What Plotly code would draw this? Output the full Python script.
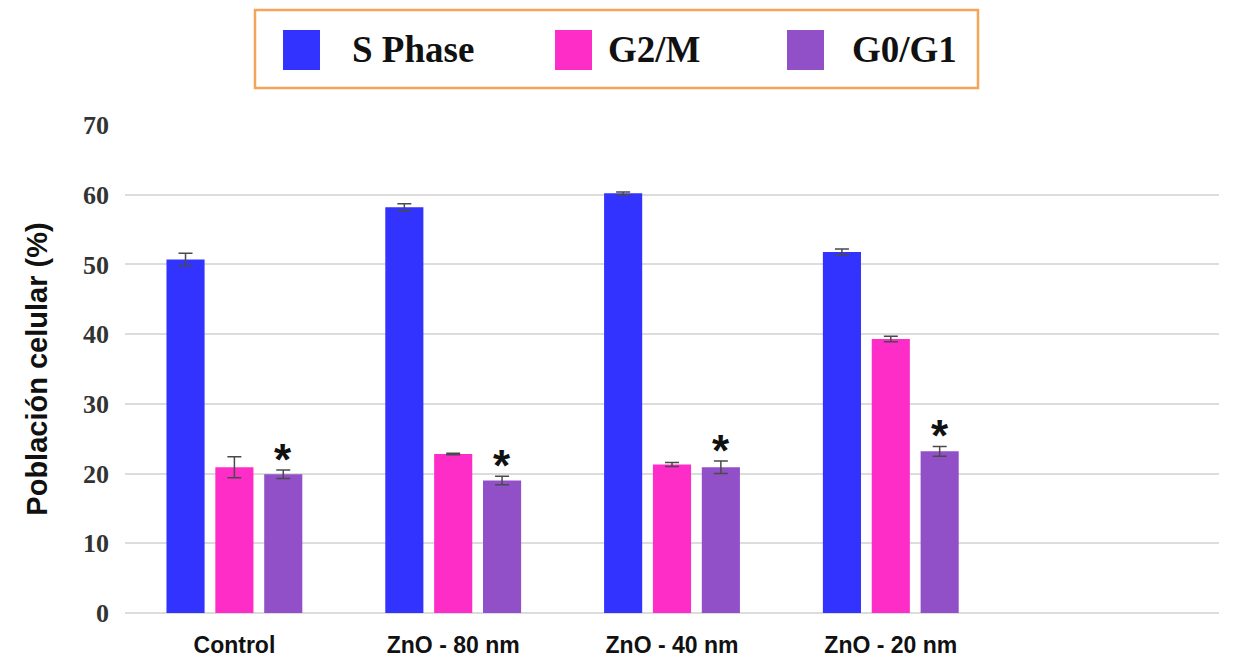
import plotly.graph_objects as go

categories = ["Control", "ZnO - 80 nm", "ZnO - 40 nm", "ZnO - 20 nm"]
s_phase = [50.7, 58.2, 60.2, 51.8]
s_phase_err = [0.9, 0.5, 0.2, 0.4]
g2m = [20.9, 22.8, 21.3, 39.3]
g2m_err = [1.5, 0.1, 0.3, 0.4]
g0g1 = [19.9, 19.0, 20.9, 23.2]
g0g1_err = [0.6, 0.6, 0.9, 0.7]
series_names = ["S Phase", "G2/M", "G0/G1"]
colors = ["#3333FF", "#FF2DC8", "#9150C8"]
y_ticks = [0, 10, 20, 30, 40, 50, 60, 70]

# page body has an 8px margin; figure is placed at (8, 8)
OFF = 8
W, H = 1236 - OFF, 657 - OFF
L, T, PW, PH = 125 - OFF, 125 - OFF, 1094, 488

fig = go.Figure()
for name, vals, errs, col in zip(series_names, [s_phase, g2m, g0g1],
                                 [s_phase_err, g2m_err, g0g1_err], colors):
    fig.add_trace(go.Bar(
        x=categories, y=vals, name=name, marker=dict(color=col, line=dict(width=0)),
        error_y=dict(type="data", array=errs, color="#4a4a4a", thickness=1.5, width=7),
        showlegend=False,
    ))

bargap = 0.33
slot = (1 - bargap) / 3
for i, (v, e) in enumerate(zip(g0g1, g0g1_err)):
    fig.add_annotation(x=i + slot, y=v + e, xref="x", yref="y", text="<b>*</b>",
                       showarrow=False, yanchor="bottom", yshift=-16,
                       font=dict(family="Liberation Sans", size=44, color="#111111"))


def px(x):
    return (x - 125) / PW


def py(y):
    return (613 - y) / PH


# custom legend
fig.add_shape(type="rect", xref="paper", yref="paper",
              x0=px(255), x1=px(978), y0=py(88), y1=py(10),
              line=dict(color="#F5A55A", width=2.5), fillcolor="white")
leg_sq_x = [283, 555, 787]
leg_txt_x = [350, 606, 850]
for name, col, sx, tx in zip(series_names, colors, leg_sq_x, leg_txt_x):
    fig.add_shape(type="rect", xref="paper", yref="paper",
                  x0=px(sx), x1=px(sx + 37), y0=py(70), y1=py(30),
                  line=dict(width=0), fillcolor=col)
    fig.add_annotation(x=px(tx), y=py(50), xref="paper", yref="paper",
                       text="<b>" + name + "</b>", showarrow=False, xanchor="left", yanchor="middle",
                       font=dict(family="Liberation Serif", size=37, color="#111111"))

fig.update_layout(
    width=W, height=H,
    margin=dict(l=L, r=W - L - PW, t=T, b=H - T - PH),
    paper_bgcolor="white", plot_bgcolor="white",
    barmode="group", bargap=bargap, bargroupgap=0.22,
    yaxis=dict(
        range=[0, 70], tickvals=y_ticks, showgrid=True, gridcolor="#DCDCDC", gridwidth=2,
        zeroline=True, zerolinecolor="#DCDCDC", zerolinewidth=2, automargin=False,
        tickfont=dict(family="Liberation Serif", size=26, color="#333333", weight="bold"),
        ticklabelstandoff=15,
        title=dict(text="<b>Población celular (%)</b>", standoff=26,
                   font=dict(family="Liberation Sans", size=29, color="#111111")),
    ),
    xaxis=dict(
        range=[-0.5, 4.5], showgrid=False, showline=False, automargin=False,
        tickfont=dict(family="Liberation Sans", size=23, color="#111111"),
        ticklabelstandoff=16,
    ),
)
fig.update_xaxes(tickvals=categories, ticktext=["<b>" + c + "</b>" for c in categories])
fig.write_html("out.html")
